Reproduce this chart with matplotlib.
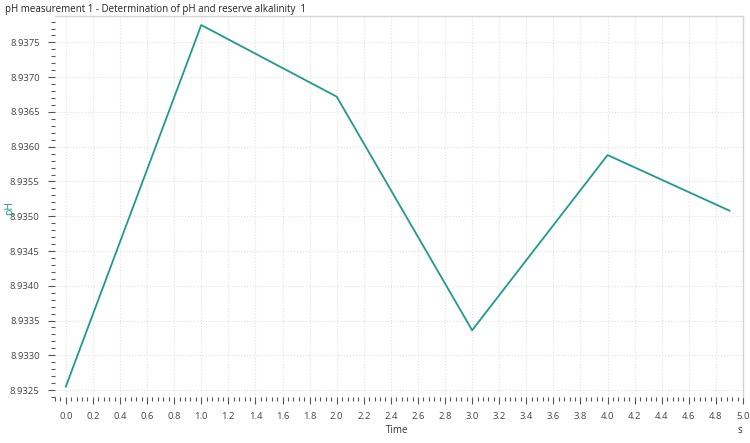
import numpy as np
from matplotlib import pyplot as plt
from matplotlib.ticker import MultipleLocator, FormatStrFormatter

time_s = [0.0, 1.0, 2.0, 3.0, 4.0, 4.9]
ph_values = [8.93255, 8.93775, 8.93672, 8.93336, 8.93588, 8.93508]

title = 'pH measurement 1 - Determination of pH and reserve alkalinity  1'
teal = '#1f9a8c'

plt.rcParams['font.family'] = ['Open Sans', 'DejaVu Sans']

fig = plt.figure(figsize=(7.5, 4.43), dpi=100)
ax = fig.add_axes([0.0733, 0.1038, 0.9174, 0.8601])

ax.plot(time_s, ph_values, color=teal, linewidth=1.3)

ax.set_xlim(-0.08, 5.0)
ax.set_ylim(8.93240, 8.93788)

ax.xaxis.set_major_locator(MultipleLocator(0.2))
ax.xaxis.set_minor_locator(MultipleLocator(0.04))
ax.yaxis.set_major_locator(MultipleLocator(0.0005))
ax.yaxis.set_minor_locator(MultipleLocator(0.0001))
ax.xaxis.set_major_formatter(FormatStrFormatter('%.1f'))
ax.yaxis.set_major_formatter(FormatStrFormatter('%.4f'))

ax.tick_params(which='major', length=5, width=0.8, color='#555555',
               labelsize=6.8, labelcolor='#444444', pad=6)
ax.tick_params(which='minor', length=3, width=0.8, color='#555555')
ax.tick_params(axis='x', which='both', direction='out')

ax.grid(which='major', color='#e2e2e2', linestyle=':', linewidth=0.8)

for side in ['left', 'bottom']:
    ax.spines[side].set_visible(False)
for side in ['top', 'right']:
    ax.spines[side].set_color('#d5d5d5')
    ax.spines[side].set_linewidth(1.0)

fig.text(0.007, 0.992, title, fontsize=7, color='#222222', va='top', ha='left')
fig.text(0.013, 0.53, 'pH', fontsize=7.5, color=teal, rotation=90,
         va='center', ha='center')
fig.text(0.529, 0.028, 'Time', fontsize=7, color='#333333', ha='center', va='center')
fig.text(0.987, 0.028, 's', fontsize=7, color='#333333', ha='center', va='center')

fig.savefig('out.png', dpi=100, facecolor='white')
